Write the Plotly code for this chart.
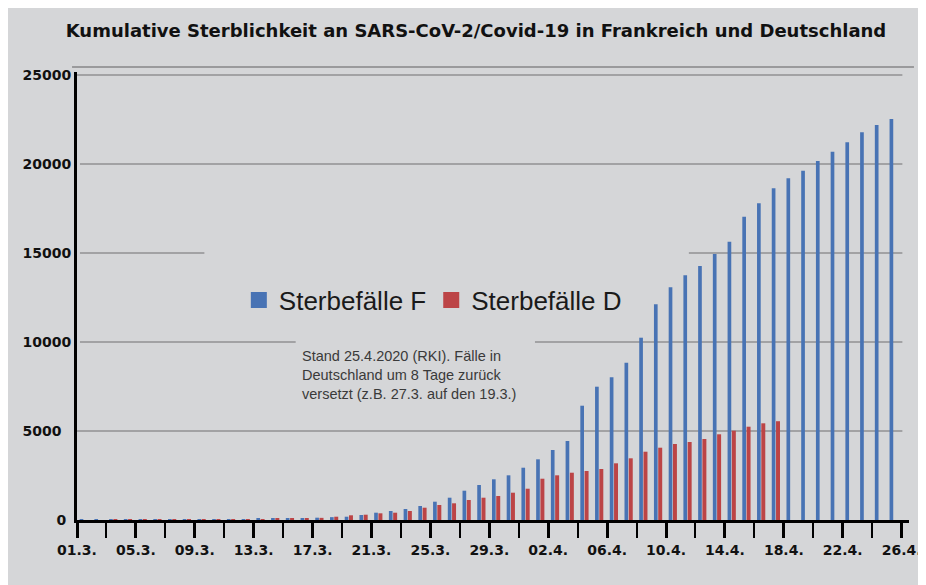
import plotly.graph_objects as go
import pandas as pd

# ---------------- data ----------------
start = pd.Timestamp("2020-03-01")
dates = pd.date_range("2020-03-01", "2020-04-25", freq="D")
tick_dates = pd.date_range("2020-03-01", "2020-04-26", freq="4D")
tick_labels = [f"{d.day:02d}.{d.month}." for d in tick_dates]

# cumulative deaths France (blue), one value per day from 01.3. to 25.4.
france = [2, 2, 3, 4, 4, 7, 9, 11, 19, 25,
          33, 48, 61, 79, 91, 110, 130, 160, 185, 281,
          410, 506, 618, 787, 1028, 1253, 1646, 1966, 2287, 2511,
          2938, 3410, 3933, 4438, 6421, 7489, 8017, 8837, 10242, 12118,
          13073, 13747, 14270, 14944, 15635, 17041, 17792, 18633, 19197, 19626,
          20169, 20693, 21219, 21781, 22191, 22528]

# cumulative deaths Germany (red), shifted back by 8 days, 01.3. to 17.4.
germany = [0, 0, 1, 2, 3, 4, 6, 8, 10, 13,
           20, 30, 45, 60, 80, 100, 120, 185, 264, 298,
           376, 410, 506, 691, 843, 938, 1124, 1253, 1348, 1534,
           1758, 2320, 2511, 2657, 2753, 2865, 3185, 3466, 3837, 4062,
           4270, 4382, 4551, 4815, 5017, 5242, 5433, 5550]

y_ticks = [0, 5000, 10000, 15000, 20000, 25000]
y_tick_labels = ["0\u00a0", "5000\u00a0\u00a0", "10000", "15000", "20000", "25000"]

title_text = "Kumulative Sterblichkeit an SARS-CoV-2/Covid-19 in Frankreich und Deutschland"
legend_f = "Sterbefälle F"
legend_d = "Sterbefälle D"
note_text = ("Stand 25.4.2020 (RKI). Fälle in<br>"
             "Deutschland um 8 Tage zurück<br>"
             "versetzt (z.B. 27.3. auf den 19.3.)")

# ---------------- derived positions ----------------
x_days = [(d - start).days for d in dates]
tick_vals = [(d - start).days for d in tick_dates]
minor_vals = [v + 2 for v in tick_vals[:-1]]

BG = "#d5d6d8"
BLUE = "#4873b4"
RED = "#bc4446"
GRID = "#a2a2a4"

fig = go.Figure()
fig.add_trace(go.Bar(
    x=x_days, y=france, name=legend_f, showlegend=False,
    marker=dict(color=BLUE, line=dict(width=0)),
    width=0.25, offset=0.18,
))
fig.add_trace(go.Bar(
    x=x_days[:len(germany)], y=germany, name=legend_d, showlegend=False,
    marker=dict(color=RED, line=dict(width=0)),
    width=0.27, offset=0.47,
))
# legend entries with larger square symbols
fig.add_trace(go.Scatter(x=[None], y=[None], mode="markers", name=legend_f,
                         marker=dict(symbol="square", size=16, color=BLUE)))
fig.add_trace(go.Scatter(x=[None], y=[None], mode="markers", name=legend_d,
                         marker=dict(symbol="square", size=16, color=RED)))

# figure geometry (figure is drawn 8px right/down in the page by the body margin)
OFF = 8
W, H = 926, 585
L, R, T, B = 69, 19, 64, 73
pw = W - L - R
ph = H - T - B


def px_x(sx):
    return (sx - OFF - L) / pw


def px_y(sy):
    return (H - B - (sy - OFF)) / ph


# gridline segments (partly interrupted as in the reference)
grid_segments = [
    (5000, 0.0, 56.05),
    (10000, 0.2, 14.85), (10000, 31.1, 56.05),
    (15000, 0.2, 8.65), (15000, 41.55, 56.05),
    (20000, 0.2, 56.05),
    (25000, 0.0, 56.05),
]
shapes = []
for yv, x0, x1 in grid_segments:
    shapes.append(dict(type="line", xref="x", yref="y", x0=x0, x1=x1, y0=yv, y1=yv,
                       line=dict(color=GRID, width=2), layer="below"))
# extra line just above the plot top
shapes.append(dict(type="line", xref="paper", yref="paper",
                   x0=px_x(72), x1=px_x(920), y0=px_y(67), y1=px_y(67),
                   line=dict(color="#9a9a9c", width=2), layer="below"))

tick_font = dict(family="DejaVu Sans, Verdana, sans-serif", size=14, color="#111111", weight="bold")

fig.update_layout(
    width=W, height=H,
    margin=dict(l=L, r=R, t=T, b=B),
    paper_bgcolor=BG, plot_bgcolor=BG,
    barmode="overlay",
    title=dict(text=title_text, x=(476 - OFF) / W, xanchor="center", xref="container",
               y=1 - (31 - OFF) / H, yanchor="middle", yref="container",
               font=dict(family="DejaVu Sans, Verdana, sans-serif", size=18,
                         color="#111111", weight="bold")),
    xaxis=dict(range=[0, 56.5], tickmode="array", tickvals=tick_vals, ticktext=tick_labels,
               showgrid=False, zeroline=False, showline=True, linecolor="black", linewidth=3,
               ticks="outside", ticklen=15, tickwidth=3, tickcolor="black",
               minor=dict(tickmode="array", tickvals=minor_vals, ticks="outside", ticklen=15,
                          tickwidth=1.5, tickcolor="black", showgrid=False),
               tickfont=tick_font),
    yaxis=dict(range=[0, 25170], tickmode="array", tickvals=y_ticks, ticktext=y_tick_labels,
               showgrid=False, zeroline=False, showline=True, linecolor="black", linewidth=3,
               ticks="", tickfont=tick_font),
    showlegend=True,
    legend=dict(orientation="h", x=px_x(240), xanchor="left", y=px_y(300), yanchor="middle",
                bgcolor="rgba(0,0,0,0)", font=dict(family="Liberation Sans, Arial, sans-serif",
                                                   size=26, color="#1a1a1a"),
                itemclick=False, itemdoubleclick=False),
    shapes=shapes,
    annotations=[dict(text=note_text, xref="paper", yref="paper", x=px_x(302), y=px_y(346),
                      xanchor="left", yanchor="top", align="left", showarrow=False,
                      font=dict(family="Liberation Sans, Arial, sans-serif", size=14.5,
                                color="#3a3a3a"))],
)

fig.write_html("out.html")
